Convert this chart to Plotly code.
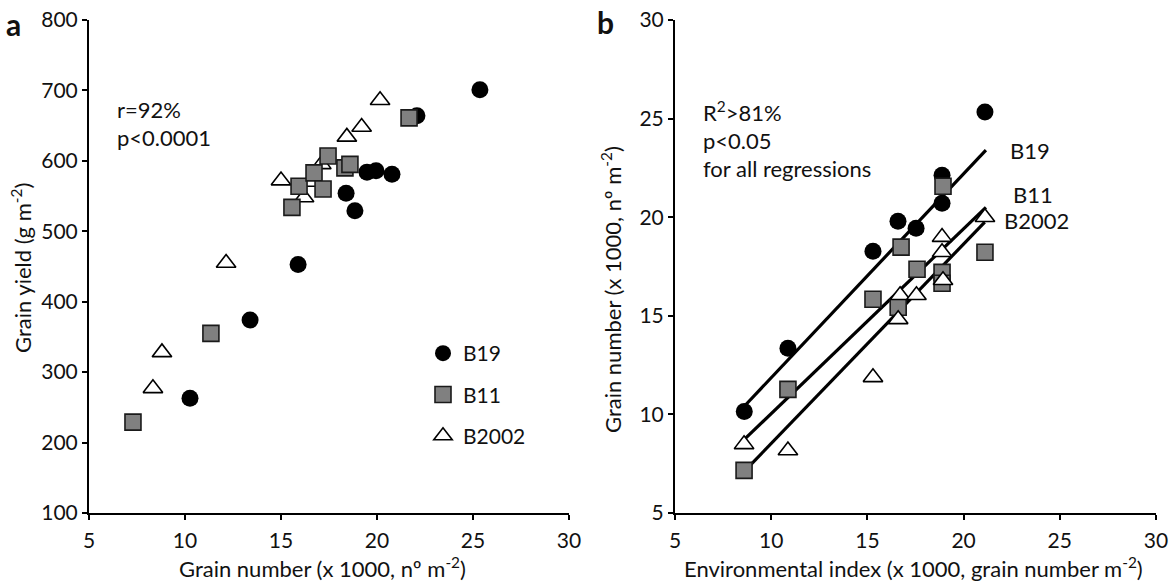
import plotly.graph_objects as go

# ---------------- data ----------------
# Panel a: grain yield vs grain number
a_b19_x = [10.26, 13.39, 15.89, 18.39, 18.85, 19.48, 19.95, 20.78, 22.08, 25.36]
a_b19_y = [263, 374, 453, 554, 529, 584, 586, 581, 664, 701]
a_b11_x = [7.29, 11.35, 15.57, 15.94, 16.72, 17.19, 17.45, 18.33, 18.59, 21.67]
a_b11_y = [229, 355, 534, 564, 583, 560, 607, 590, 595, 661]
a_b2002_x = [8.33, 8.80, 12.14, 15.00, 16.20, 16.50, 17.10, 18.43, 19.20, 20.16]
a_b2002_y = [277, 328, 455, 572, 548, 570, 595, 634, 648, 686]

# Panel b: grain number vs environmental index
b_b19_x = [8.60, 10.87, 15.29, 16.59, 17.53, 18.88, 18.88, 21.11]
b_b19_y = [10.15, 13.35, 18.27, 19.80, 19.44, 22.13, 20.71, 25.33]
b_b11_x = [8.59, 10.87, 15.29, 16.60, 16.75, 17.58, 18.93, 18.88, 18.88, 21.11]
b_b11_y = [7.16, 11.27, 15.84, 15.43, 18.48, 17.36, 21.57, 17.20, 16.65, 18.22]
b_b2002_x = [8.59, 10.87, 15.29, 16.60, 16.70, 17.55, 18.88, 18.88, 18.93, 21.11]
b_b2002_y = [8.48, 8.17, 11.88, 14.82, 16.04, 16.04, 18.99, 18.22, 16.80, 20.00]

# Regression lines (end points)
fit_b19_x = [8.59, 21.16]
fit_b19_y = [10.40, 23.40]
fit_b11_x = [8.59, 21.16]
fit_b11_y = [8.72, 20.50]
fit_b2002_x = [8.59, 21.10]
fit_b2002_y = [7.10, 19.75]

x_ticks = [5, 10, 15, 20, 25, 30]
ya_ticks = [100, 200, 300, 400, 500, 600, 700, 800]
yb_ticks = [5, 10, 15, 20, 25, 30]

# ---------------- styling ----------------
FONT = "Lato"
TXT = "#111111"
W, H = 1172, 586
TICK_SIZE = 21
TEXT_SIZE = 22

def px_x(p):
    return p / W

def px_y(p):
    return 1 - p / H

circle = dict(symbol="circle", size=17, color="black", line=dict(width=0))
square = dict(symbol="square", size=16, color="#808080", line=dict(width=1.6, color="#1a1a1a"))
tri = dict(symbol="triangle-up", size=17, color="white", line=dict(width=1.6, color="black"))

fig = go.Figure()

# Panel a
fig.add_trace(go.Scatter(x=a_b2002_x, y=a_b2002_y, mode="markers", marker=tri, name="B2002",
                         legendgroup="g3", legendrank=3, xaxis="x", yaxis="y"))
fig.add_trace(go.Scatter(x=a_b19_x, y=a_b19_y, mode="markers", marker=circle, name="B19",
                         legendgroup="g1", legendrank=1, xaxis="x", yaxis="y"))
fig.add_trace(go.Scatter(x=a_b11_x, y=a_b11_y, mode="markers", marker=square, name="B11",
                         legendgroup="g2", legendrank=2, xaxis="x", yaxis="y"))

# Panel b lines
for fx, fy in [(fit_b19_x, fit_b19_y), (fit_b11_x, fit_b11_y), (fit_b2002_x, fit_b2002_y)]:
    fig.add_trace(go.Scatter(x=fx, y=fy, mode="lines", line=dict(color="black", width=3.2),
                             showlegend=False, xaxis="x2", yaxis="y2"))
# Panel b markers
fig.add_trace(go.Scatter(x=b_b19_x, y=b_b19_y, mode="markers", marker=circle, showlegend=False,
                         xaxis="x2", yaxis="y2"))
fig.add_trace(go.Scatter(x=b_b11_x, y=b_b11_y, mode="markers", marker=square, showlegend=False,
                         xaxis="x2", yaxis="y2"))
fig.add_trace(go.Scatter(x=b_b2002_x, y=b_b2002_y, mode="markers", marker=tri, showlegend=False,
                         xaxis="x2", yaxis="y2"))

axis_common = dict(showline=True, linecolor="black", linewidth=2, ticks="outside", ticklen=5,
                   tickwidth=2, tickcolor="black", showgrid=False, zeroline=False,
                   tickfont=dict(family=FONT, size=TICK_SIZE, color=TXT), automargin=False,
                   ticklabeloverflow="allow", fixedrange=True)
x_extra = dict(ticklabelstandoff=3)

y_dom = [px_y(513), px_y(20)]
fig.update_layout(
    width=W, height=H,
    margin=dict(l=0, r=0, t=0, b=0),
    paper_bgcolor="white", plot_bgcolor="white",
    font=dict(family=FONT, size=TICK_SIZE, color=TXT),
    xaxis=dict(axis_common, **x_extra, domain=[px_x(89), px_x(569)], range=[5, 30],
               tickvals=x_ticks, anchor="y"),
    yaxis=dict(axis_common, domain=y_dom, range=[100, 800], tickvals=ya_ticks, anchor="x"),
    xaxis2=dict(axis_common, **x_extra, domain=[px_x(675), px_x(1156)], range=[5, 30],
                tickvals=x_ticks, anchor="y2"),
    yaxis2=dict(axis_common, domain=y_dom, range=[5, 30], tickvals=yb_ticks, anchor="x2"),
    showlegend=True,
    legend=dict(x=px_x(423), y=px_y(333), xanchor="left", yanchor="top",
                traceorder="grouped", tracegroupgap=11, bgcolor="rgba(0,0,0,0)",
                font=dict(family=FONT, size=TICK_SIZE, color=TXT), itemsizing="trace"),
)

ann = []
def text(x, y, s, size=TEXT_SIZE, angle=0, xanchor="left"):
    ann.append(dict(x=px_x(x), y=px_y(y), xref="paper", yref="paper", text=s, showarrow=False,
                    xanchor=xanchor, yanchor="middle", textangle=angle,
                    font=dict(family=FONT, size=size, color=TXT)))

# panel letters
text(13, 24, "<b>a</b>", size=30, xanchor="center")
text(605, 22, "<b>b</b>", size=30, xanchor="center")
# panel a stats
text(115, 109, "r=92%")
text(115, 137, "p&lt;0.0001")
# panel b stats
text(701, 112, "R<sup>2</sup>&gt;81%")
text(701, 140, "p&lt;0.05")
text(701, 168, "for all regressions")
# panel b line labels
text(1008, 150, "B19")
text(1011, 194, "B11")
text(1002, 220, "B2002")
# axis titles
text(322, 567, "Grain number (x 1000, nº m<sup>-2</sup>)", xanchor="center")
text(914, 567, "Environmental index (x 1000, grain number m<sup>-2</sup>)", xanchor="center")
text(22, 268, "Grain yield (g m<sup>-2</sup>)", angle=-90, xanchor="center")
text(611, 290, "Grain number (x 1000, nº m<sup>-2</sup>)", angle=-90, xanchor="center")

fig.update_layout(annotations=ann)
fig.write_html("out.html", config={"displayModeBar": False},
               post_script="document.body.style.margin='0';")
